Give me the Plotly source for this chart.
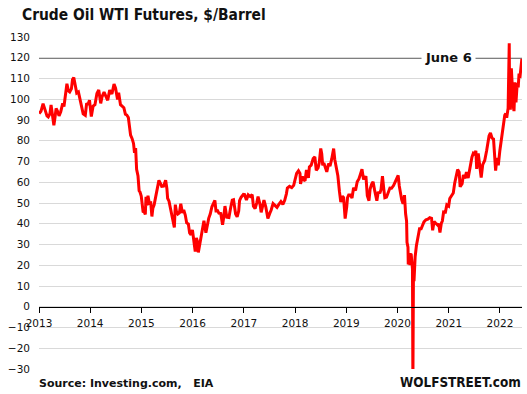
import plotly.graph_objects as go

# ---------------- data ----------------
dates = [
    # 2013
    "2013-01-02","2013-01-15","2013-01-30","2013-02-08","2013-02-20","2013-02-27","2013-03-08","2013-03-20",
    "2013-03-28","2013-04-05","2013-04-17","2013-04-25","2013-05-03","2013-05-15","2013-05-24","2013-06-05",
    "2013-06-19","2013-06-28","2013-07-08","2013-07-19","2013-07-30","2013-08-08","2013-08-20","2013-08-28",
    "2013-09-06","2013-09-16","2013-09-27","2013-10-09","2013-10-18","2013-10-31","2013-11-12","2013-11-27",
    "2013-12-06","2013-12-18","2013-12-27",
    # 2014
    "2014-01-09","2014-01-22","2014-02-04","2014-02-18","2014-03-03","2014-03-17","2014-03-27","2014-04-10",
    "2014-04-23","2014-05-06","2014-05-20","2014-06-05","2014-06-20","2014-07-01","2014-07-15","2014-07-23",
    "2014-08-05","2014-08-18","2014-08-29","2014-09-09","2014-09-19","2014-09-30","2014-10-08","2014-10-16",
    "2014-10-27","2014-11-06","2014-11-13","2014-11-21","2014-11-28","2014-12-08","2014-12-16","2014-12-22",
    "2014-12-31",
    # 2015
    "2015-01-06","2015-01-13","2015-01-23","2015-01-29","2015-02-03","2015-02-11","2015-02-17","2015-02-27",
    "2015-03-09","2015-03-17","2015-03-24","2015-04-02","2015-04-14","2015-04-24","2015-05-06","2015-05-15",
    "2015-05-26","2015-06-08","2015-06-23","2015-07-02","2015-07-07","2015-07-17","2015-07-28","2015-08-07",
    "2015-08-14","2015-08-24","2015-08-31","2015-09-08","2015-09-18","2015-09-29","2015-10-09","2015-10-21",
    "2015-10-30","2015-11-10","2015-11-20","2015-12-02","2015-12-11","2015-12-21","2015-12-31",
    # 2016
    "2016-01-08","2016-01-20","2016-01-28","2016-02-04","2016-02-11","2016-02-19","2016-03-01","2016-03-08",
    "2016-03-22","2016-04-05","2016-04-15","2016-04-25","2016-05-06","2016-05-18","2016-06-08","2016-06-16",
    "2016-06-27","2016-07-07","2016-07-20","2016-08-02","2016-08-10","2016-08-19","2016-09-01","2016-09-16",
    "2016-09-29","2016-10-10","2016-10-19","2016-11-03","2016-11-14","2016-11-25","2016-12-01","2016-12-12",
    "2016-12-28",
    # 2017
    "2017-01-06","2017-01-19","2017-02-01","2017-02-15","2017-03-01","2017-03-10","2017-03-22","2017-04-03",
    "2017-04-12","2017-04-27","2017-05-04","2017-05-12","2017-05-24","2017-06-06","2017-06-21","2017-07-05",
    "2017-07-14","2017-07-28","2017-08-10","2017-08-25","2017-09-06","2017-09-22","2017-10-06","2017-10-19",
    "2017-10-31","2017-11-07","2017-11-22","2017-12-08","2017-12-22",
    # 2018
    "2018-01-03","2018-01-12","2018-01-25","2018-02-05","2018-02-09","2018-02-22","2018-03-02","2018-03-13",
    "2018-03-23","2018-04-06","2018-04-13","2018-04-26","2018-05-10","2018-05-22","2018-06-01","2018-06-14",
    "2018-06-22","2018-07-03","2018-07-10","2018-07-17","2018-07-25","2018-08-08","2018-08-15","2018-08-28",
    "2018-09-07","2018-09-19","2018-10-03","2018-10-11","2018-10-23","2018-11-02","2018-11-13","2018-11-23",
    "2018-12-04","2018-12-13","2018-12-24","2018-12-31",
    # 2019
    "2019-01-04","2019-01-10","2019-01-18","2019-01-31","2019-02-11","2019-02-22","2019-03-08","2019-03-20",
    "2019-04-01","2019-04-12","2019-04-23","2019-05-03","2019-05-14","2019-05-21","2019-05-31","2019-06-12",
    "2019-06-20","2019-07-01","2019-07-11","2019-07-22","2019-08-07","2019-08-16","2019-08-30","2019-09-06",
    "2019-09-16","2019-09-26","2019-10-03","2019-10-15","2019-10-28","2019-11-08","2019-11-20","2019-12-04",
    "2019-12-16","2019-12-27",
    # 2020
    "2020-01-06","2020-01-14","2020-01-24","2020-01-31","2020-02-10","2020-02-20","2020-02-28","2020-03-06",
    "2020-03-09","2020-03-16","2020-03-18","2020-03-24","2020-03-30","2020-04-02","2020-04-08","2020-04-14",
    "2020-04-17","2020-04-20","2020-04-21","2020-04-24","2020-04-28","2020-05-06","2020-05-15","2020-05-28",
    "2020-06-08","2020-06-15","2020-06-25","2020-07-08","2020-07-22","2020-08-05","2020-08-18","2020-08-31",
    "2020-09-08","2020-09-18","2020-09-30","2020-10-12","2020-10-21","2020-10-30","2020-11-09","2020-11-16",
    "2020-11-25","2020-12-08","2020-12-18","2020-12-31",
    # 2021
    "2021-01-08","2021-01-20","2021-02-02","2021-02-12","2021-02-25","2021-03-05","2021-03-16","2021-03-23",
    "2021-04-06","2021-04-15","2021-04-26","2021-05-07","2021-05-19","2021-06-01","2021-06-15","2021-06-25",
    "2021-07-06","2021-07-13","2021-07-19","2021-07-30","2021-08-10","2021-08-20","2021-08-31","2021-09-14",
    "2021-09-28","2021-10-07","2021-10-15","2021-10-25","2021-11-05","2021-11-16","2021-11-26","2021-12-01",
    "2021-12-10","2021-12-20","2021-12-31",
    # 2022
    "2022-01-07","2022-01-18","2022-01-26","2022-02-04","2022-02-11","2022-02-18","2022-02-28","2022-03-03",
    "2022-03-08","2022-03-10","2022-03-16","2022-03-23","2022-03-31","2022-04-07","2022-04-11","2022-04-18",
    "2022-04-25","2022-05-04","2022-05-11","2022-05-17","2022-05-23","2022-05-31","2022-06-06",
]

prices = [
    # 2013
    93.1, 94.2, 97.9, 96.0, 93.1, 92.0, 91.5, 93.0,
    97.2, 93.3, 87.5, 91.2, 95.6, 94.0, 92.0, 94.0,
    98.0, 96.5, 103.0, 107.5, 104.0, 103.5, 105.0, 109.5,
    110.5, 106.5, 103.0, 103.5, 100.8, 96.4, 93.0, 92.3,
    97.6, 97.8, 99.5,
    # 2014
    91.7, 96.7, 97.4, 102.8, 104.5, 98.0, 101.3, 103.4,
    101.4, 99.5, 104.4, 102.5, 107.3, 105.3, 99.9, 103.1,
    97.4, 96.4, 95.9, 92.8, 92.4, 91.2, 87.3, 82.7,
    81.0, 78.7, 74.2, 76.5, 66.2, 63.0, 55.9, 55.3,
    53.3,
    # 2015
    47.9, 45.9, 45.6, 44.5, 53.0, 48.8, 53.5, 49.8,
    50.0, 43.5, 47.5, 49.1, 53.3, 57.2, 60.9, 59.7,
    58.0, 58.1, 61.0, 56.9, 52.3, 50.9, 47.4, 43.9,
    42.5, 38.2, 49.2, 45.9, 44.7, 45.2, 49.6, 45.2,
    46.6, 44.2, 40.4, 39.9, 35.6, 34.7, 37.0,
    # 2016
    33.2, 26.6, 33.2, 31.7, 26.2, 29.6, 34.4, 36.5,
    41.5, 35.7, 40.4, 42.6, 44.7, 48.2, 51.2, 46.2,
    46.3, 45.1, 44.9, 39.5, 43.0, 48.5, 43.2, 43.0,
    47.8, 51.4, 51.6, 44.7, 43.3, 46.1, 51.1, 52.8,
    54.1,
    # 2017
    54.0, 51.4, 53.9, 53.1, 54.0, 48.5, 47.3, 50.2,
    53.1, 49.0, 45.5, 47.8, 51.4, 48.2, 42.5, 45.1,
    46.5, 49.7, 48.6, 47.9, 49.2, 50.7, 49.3, 51.3,
    54.4, 57.2, 58.0, 57.4, 58.5,
    # 2018
    61.6, 64.3, 65.5, 64.2, 59.2, 62.8, 61.3, 60.7,
    65.9, 62.1, 67.4, 68.2, 71.4, 72.2, 65.8, 66.9,
    69.3, 76.3, 73.8, 68.1, 69.3, 67.0, 65.0, 69.0,
    67.8, 71.1, 76.2, 71.0, 66.4, 63.1, 55.7, 50.4,
    53.3, 52.6, 42.5, 45.4,
    # 2019
    48.0, 52.6, 53.8, 53.8, 52.4, 57.3, 56.1, 60.2,
    61.6, 63.9, 66.3, 61.9, 61.8, 63.0, 53.5, 51.1,
    56.7, 59.1, 60.2, 56.2, 51.1, 54.9, 55.1, 56.5,
    62.9, 56.4, 52.5, 52.8, 55.8, 57.2, 57.1, 58.4,
    60.2, 61.7,
    # 2020
    63.3, 58.2, 54.2, 51.6, 49.6, 53.8, 44.8, 41.3,
    31.1, 28.7, 20.4, 24.0, 20.1, 25.3, 25.1, 20.1,
    18.3, -37.6, 10.0, 16.9, 12.3, 24.0, 29.4, 33.7,
    38.2, 37.1, 38.7, 40.9, 41.9, 42.2, 42.9, 42.6,
    36.8, 41.1, 40.2, 39.4, 40.0, 35.8, 40.3, 41.3,
    45.7, 45.6, 49.1, 48.5,
    # 2021
    52.2, 53.2, 54.8, 59.5, 63.5, 66.1, 64.8, 57.8,
    59.3, 63.5, 61.9, 64.9, 62.0, 67.7, 72.1, 74.0,
    73.4, 75.2, 66.4, 73.9, 68.3, 62.3, 68.5, 70.5,
    75.3, 78.3, 82.3, 83.8, 81.3, 80.8, 68.2, 65.6,
    71.7, 68.2, 75.2,
    # 2022
    78.9, 85.4, 87.4, 92.3, 93.1, 91.1, 95.7, 107.7,
    127.0, 106.0, 95.0, 114.9, 100.3, 96.0, 94.3, 108.2,
    98.5, 107.8, 105.7, 112.4, 110.3, 114.7, 119.5,
]

year_ticks = ["2013", "2014", "2015", "2016", "2017", "2018", "2019", "2020", "2021", "2022"]
y_ticks = list(range(-30, 131, 10))
ref_level = 120
ref_label = "June 6"
title_text = "Crude Oil WTI Futures, $/Barrel"
source_text = "Source: Investing.com,   EIA"
brand_text = "WOLFSTREET.com"

# ---------------- layout helpers ----------------
W, H = 527, 394
ML, MR, MT, MB = 39, 5, 37, 25
PW, PH = W - ML - MR, H - MT - MB


def px(x):
    return (x - ML) / PW


def py(y):
    return (H - MB - y) / PH


FONT = "DejaVu Sans"
TITLE_FONT = "DejaVu Sans Condensed, DejaVu Sans"
DARK = "#111111"

fig = go.Figure()
fig.add_trace(go.Scatter(
    x=dates, y=prices, mode="lines",
    line=dict(color="#ff0000", width=3),
    hoverinfo="skip", showlegend=False,
))

fig.add_shape(type="line", xref="paper", yref="y", x0=0, x1=1,
              y0=ref_level, y1=ref_level, line=dict(color="black", width=1.5), layer="between")

fig.update_layout(
    width=W, height=H,
    margin=dict(l=ML, r=MR, t=MT, b=MB, autoexpand=False),
    paper_bgcolor="white", plot_bgcolor="white",
    font=dict(family=FONT, size=11, color=DARK),
    xaxis=dict(
        type="date",
        range=["2013-01-01", "2022-06-07"],
        tickvals=[f"{y}-01-01" for y in year_ticks],
        ticktext=year_ticks,
        anchor="free", position=30 / 160,
        showline=True, linecolor="black", linewidth=1,
        ticks="outside", ticklen=5, tickcolor="black", tickwidth=1,
        showgrid=False, zeroline=False, automargin=False,
        ticklabelstandoff=2,
        tickfont=dict(size=10.5, color=DARK),
    ),
    yaxis=dict(
        range=[-30, 130],
        tickvals=y_ticks,
        showgrid=True, gridcolor="#d9d9d9", gridwidth=1,
        zeroline=False, showline=False, ticks="",
        ticklabelstandoff=8, automargin=False,
        tickfont=dict(size=10.5, color=DARK),
    ),
)

fig.add_annotation(text=f"<b>{title_text}</b>", xref="paper", yref="paper",
                   x=px(20), y=py(15), xanchor="left", yanchor="middle", showarrow=False,
                   font=dict(family=TITLE_FONT, size=15.4, color=DARK))
fig.add_annotation(text=f"<b>{ref_label}</b>", xref="paper", yref="y",
                   x=px(448), y=ref_level, xanchor="center", yanchor="middle", showarrow=False,
                   bgcolor="white", borderpad=3,
                   font=dict(family=FONT, size=13, color=DARK))
fig.add_annotation(text=f"<b>{source_text}</b>", xref="paper", yref="paper",
                   x=px(37), y=py(383), xanchor="left", yanchor="middle", showarrow=False,
                   font=dict(family=FONT, size=11, color=DARK))
fig.add_annotation(text=f"<b>{brand_text}</b>", xref="paper", yref="paper",
                   x=px(523), y=py(382), xanchor="right", yanchor="middle", showarrow=False,
                   font=dict(family=TITLE_FONT, size=13.4, color=DARK))

fig.write_html("out.html", config={"displayModeBar": False},
               post_script="document.body.style.margin='0';")
